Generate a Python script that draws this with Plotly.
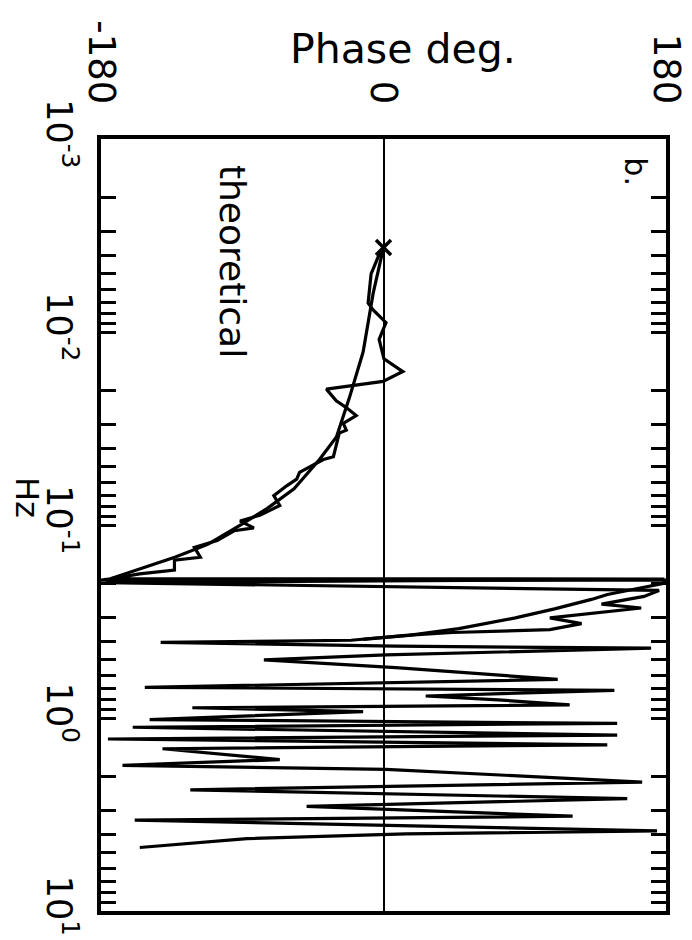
import plotly.graph_objects as go

# Theoretical phase curve (Hz, degrees)
theo_freq = [0.00365, 0.00631, 0.0127, 0.0220, 0.0350, 0.0458, 0.0650, 0.0820, 0.100,
             0.126, 0.147, 0.169, 0.190, 0.193, 0.193, 0.201, 0.229, 0.243, 0.272,
             0.303, 0.344, 0.373, 0.391]
theo_phase = [0, -6.6, -13, -21.8, -30, -40.8, -57, -74, -91,
              -112, -133, -155, -174, -180, 180, 178, 142.7, 132.5, 109,
              84, 48, 16, -13]

# Measured phase curve (Hz, degrees)
meas_freq = [0.00365, 0.00410, 0.00500, 0.00709, 0.00769, 0.00895, 0.01091, 0.01377,
             0.01603, 0.01803, 0.01977, 0.02275, 0.02464, 0.02710, 0.02972, 0.03228,
             0.03342, 0.04426, 0.0458, 0.05333, 0.05781, 0.06266, 0.07047, 0.07925,
             0.08894, 0.09550, 0.1035, 0.1071, 0.1205, 0.1306, 0.147, 0.1520, 0.1710,
             0.1791, 0.1900, 0.1905, 0.199, 0.2183, 0.2344, 0.2570, 0.2692, 0.2825,
             0.303, 0.3243, 0.3483, 0.3606, 0.373, 0.3954, 0.4055, 0.4246, 0.4345,
             0.4710, 0.5000, 0.5483, 0.6310, 0.6935, 0.7185, 0.7691, 0.8054, 0.8547,
             0.8850, 0.9268, 1.0188, 1.0666, 1.117, 1.227, 1.285, 1.377, 1.443, 1.642,
             1.761, 1.845, 2.147, 2.355, 2.616, 2.872, 3.228, 3.381, 3.70, 3.845,
             3.98, 4.217, 4.688]
meas_phase = [0, -3.5, -7.9, -9.8, -6.6, 1.6, -2.8, 0.3,
              12.3, -0.3, -36.4, -30.1, -23.7, -17.4, -25.6, -23.7,
              -28.2, -31.9, -38.3, -53.5, -55.3, -61.7, -69.9, -66.1,
              -78.8, -91.4, -82.6, -95.2, -106, -120.5, -116.7, -133.2, -133.2,
              -155.4, -174.3, 179, -176.8, 175.6, 166, 138.9, 164.2, 140.8,
              106, 126.2, 106, 44, 14.2, -20.6, -142, 7.9, 170.5,
              1.6, -76.2, 7.9, 111, -152.1, 147.1, 26.9, 73.1, 118.6,
              -121.8, -13, -149, 148.9, -159.8, 148.9, -175.6, 142.6, -140.8, -66.1,
              -166.3, 1.6, 164.8, -123.1, 155.3, -49, 120.5, -158.5, 60, 174.3,
              14.2, -87, -155.3]

decades = [0.001, 0.01, 0.1, 1, 10]
decade_labels = ["10<sup>-3</sup>", "10<sup>-2</sup>", "10<sup>-1</sup>", "10<sup>0</sup>", "10<sup>1</sup>"]
phase_ticks = [-180, 0, 180]
phase_labels = ["-180", "0", "180"]

tickvals, ticktext = [], []
for d, lab in zip(decades, decade_labels):
    tickvals.append(d)
    ticktext.append(lab)
    if d < 10:
        for m in range(2, 10):
            tickvals.append(d * m)
            ticktext.append("")

fig = go.Figure()
fig.add_trace(go.Scatter(x=theo_phase, y=theo_freq, mode="lines",
                         line=dict(color="black", width=3.2), showlegend=False))
fig.add_trace(go.Scatter(x=meas_phase, y=meas_freq, mode="lines",
                         line=dict(color="black", width=3.2), showlegend=False))
fig.add_trace(go.Scatter(x=[meas_phase[0]], y=[meas_freq[0]], mode="markers",
                         marker=dict(symbol="x-thin", size=15, line=dict(color="black", width=3.5)),
                         showlegend=False))

font = "DejaVu Sans"
fig.update_layout(
    width=692, height=940,
    margin=dict(l=93, r=30, t=122, b=28),
    paper_bgcolor="white", plot_bgcolor="white",
    font=dict(family=font, color="black"),
    xaxis=dict(range=[-180, 180], side="top", tickvals=phase_ticks, ticktext=phase_labels,
               tickangle=90, tickfont=dict(size=37, family=font), ticks="",
               ticklabelstandoff=18,
               showgrid=False, zeroline=True, zerolinecolor="black", zerolinewidth=2.2,
               showline=True, linecolor="black", linewidth=3.5, mirror=True),
    yaxis=dict(type="log", range=[1, -3], tickvals=tickvals, ticktext=ticktext,
               tickangle=90, tickfont=dict(size=35, family=font),
               ticks="inside", ticklen=15, tickwidth=3, tickcolor="black",
               ticklabelstandoff=8,
               showgrid=False, zeroline=False,
               showline=True, linecolor="black", linewidth=3.5, mirror="ticks"),
    annotations=[
        dict(text="Phase deg.", x=0.535, y=1.1165, xref="paper", yref="paper",
             xanchor="center", yanchor="middle",
             showarrow=False, font=dict(size=41, family=font)),
        dict(text="Hz", x=-0.131, y=0.535, xref="paper", yref="paper", textangle=90,
             xanchor="center", yanchor="middle",
             showarrow=False, font=dict(size=32, family=font)),
        dict(text="theoretical", x=0.232, y=0.842, xref="paper", yref="paper", textangle=90,
             xanchor="center", yanchor="middle",
             showarrow=False, font=dict(size=36, family=font)),
        dict(text="b.", x=0.947, y=0.958, xref="paper", yref="paper", textangle=90,
             xanchor="center", yanchor="middle",
             showarrow=False, font=dict(size=30, family=font)),
    ],
)

fig.write_html("out.html")
